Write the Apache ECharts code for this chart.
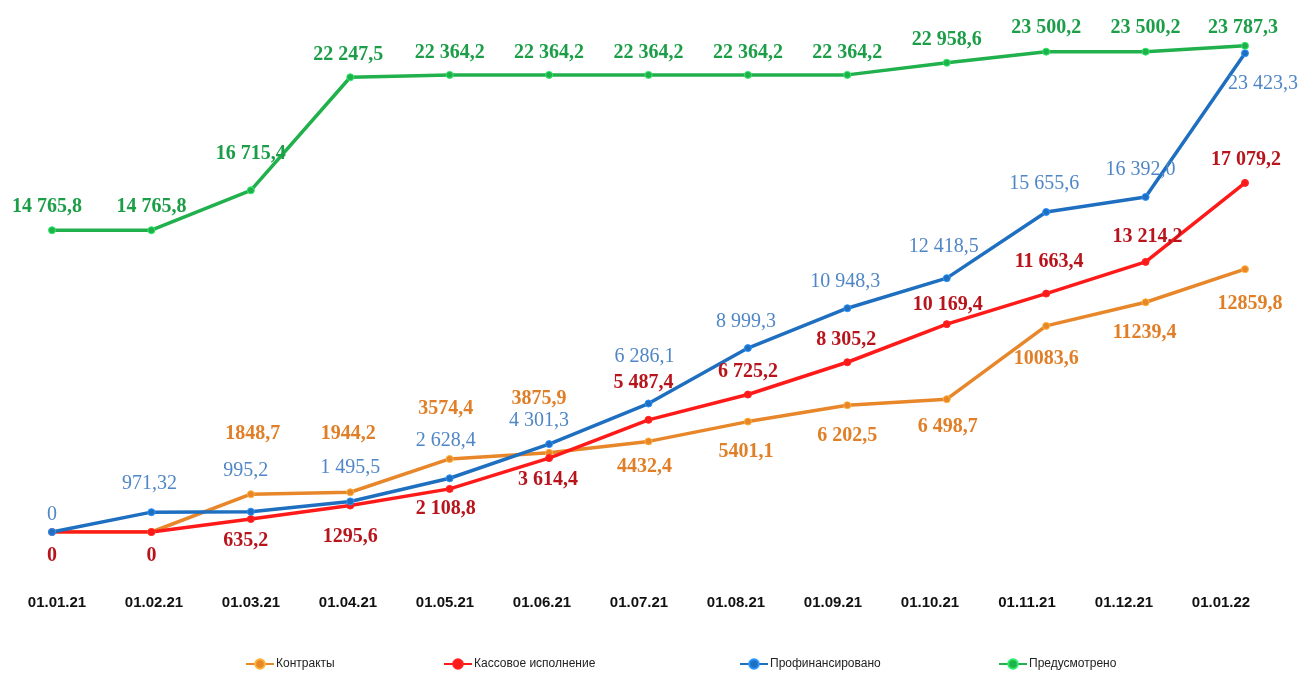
<!DOCTYPE html>
<html>
<head>
<meta charset="utf-8">
<script src="https://cdn.jsdelivr.net/npm/echarts@6/dist/echarts.min.js"></script>
<style>
  html, body { margin: 0; padding: 0; background: #fff; }
  #chart { width: 1301px; height: 673px; }
</style>
</head>
<body>
<div id="chart"></div>
<script>
// data
const dates = ['01.01.21', '01.02.21', '01.03.21', '01.04.21', '01.05.21', '01.06.21', '01.07.21',
  '01.08.21', '01.09.21', '01.10.21', '01.11.21', '01.12.21', '01.01.22']

const contracts = [0, 0, 1848.7, 1944.2, 3574.4, 3875.9, 4432.4, 5401.1, 6202.5, 6498.7, 10083.6, 11239.4, 12859.8]
const cashExec = [0, 0, 635.2, 1295.6, 2108.8, 3614.4, 5487.4, 6725.2, 8305.2, 10169.4, 11663.4, 13214.2, 17079.2]
const financed = [0, 971.32, 995.2, 1495.5, 2628.4, 4301.3, 6286.1, 8999.3, 10948.3, 12418.5, 15655.6, 16392.0, 23423.3]
const planned = [14765.8, 14765.8, 16715.4, 22247.5, 22364.2, 22364.2, 22364.2, 22364.2, 22364.2, 22958.6, 23500.2, 23500.2, 23787.3]

// value labels as printed on the slide (formatting is inconsistent there)
const contractsText = ['', '', '1848,7', '1944,2', '3574,4', '3875,9', '4432,4', '5401,1', '6 202,5', '6 498,7', '10083,6', '11239,4', '12859,8']
const cashText = ['0', '0', '635,2', '1295,6', '2 108,8', '3 614,4', '5 487,4', '6 725,2', '8 305,2', '10 169,4', '11 663,4', '13 214,2', '17 079,2']
const financedText = ['0', '971,32', '995,2', '1 495,5', '2 628,4', '4 301,3', '6 286,1', '8 999,3', '10 948,3', '12 418,5', '15 655,6', '16 392,0', '23 423,3']
const plannedText = ['14 765,8', '14 765,8', '16 715,4', '22 247,5', '22 364,2', '22 364,2', '22 364,2', '22 364,2', '22 364,2', '22 958,6', '23 500,2', '23 500,2', '23 787,3']

// label placement relative to the point [dx, dy]
const contractsOff = [[0, 0], [0, 0], [2, -60], [-2, -58], [-4, -50], [-10, -54], [-4, 25], [-2, 30], [0, 31], [1, 28], [0, 33], [-1, 31], [5, 35]]
const cashOff = [[0, 24], [0, 24], [-5, 22], [0, 31], [-4, 20], [-1, 22], [-5, -37], [0, -23], [-1, -22], [1, -19], [3, -32], [2, -25], [1, -23]]
const financedOff = [[0, -17], [-2, -28], [-5, -41], [0, -34], [-4, -38], [-10, -23], [-4, -47], [-2, -26], [-2, -26], [-3, -31], [-2, -28], [-5, -27], [18, 31]]
const plannedOff = [[-5, -23], [0, -23], [0, -37], [-2, -22], [0, -22], [0, -22], [0, -22], [0, -22], [0, -22], [0, -23], [0, -24], [0, -24], [-2, -18]]

const chart = echarts.init(document.getElementById('chart'))

const serif = '"Liberation Serif", "Times New Roman", serif'
const sans = '"Liberation Sans", Arial, sans-serif'

function makeSeries(name, values, texts, offsets, lineColor, labelColor, bold) {
  return {
    name,
    type: 'line',
    symbol: 'circle',
    symbolSize: 7,
    lineStyle: { width: 3.5, color: lineColor },
    itemStyle: { color: lineColor, borderColor: echarts.color.lift(lineColor, -0.35), borderWidth: 1 },
    emphasis: { disabled: true },
    animation: false,
    data: values.map((v, i) => ({
      value: v,
      label: {
        show: texts[i] !== '',
        position: 'inside',
        offset: offsets[i],
        formatter: () => texts[i]
      }
    })),
    label: {
      color: labelColor,
      fontFamily: serif,
      fontSize: 20,
      fontWeight: bold ? 'bold' : 'normal'
    }
  }
}

const names = ['Контракты', 'Кассовое исполнение', 'Профинансировано', 'Предусмотрено']
const legendLeft = [240, 438, 734, 993]

chart.setOption({
  backgroundColor: '#fff',
  grid: [
    { left: 52, right: 56, top: 21, bottom: 141 },
    // the date row on the slide is spaced a little differently from the points
    { left: 57, right: 80, top: 21, bottom: 141 }
  ],
  legend: names.map((n, i) => ({
    data: [n],
    left: legendLeft[i],
    top: 653,
    itemWidth: 28,
    itemHeight: 12,
    textStyle: { fontFamily: sans, fontSize: 12, color: '#222', padding: [0, 0, 0, -3] }
  })),
  xAxis: [
    {
      type: 'category',
      data: dates,
      boundaryGap: false,
      gridIndex: 0,
      axisLine: { show: false },
      axisTick: { show: false },
      axisLabel: { show: false },
      splitLine: { show: false }
    },
    {
      type: 'category',
      data: dates,
      boundaryGap: false,
      gridIndex: 1,
      axisLine: { show: false },
      axisTick: { show: false },
      axisLabel: {
        margin: 63,
        color: '#111',
        fontFamily: sans,
        fontWeight: 'bold',
        fontSize: 15
      },
      splitLine: { show: false }
    }
  ],
  yAxis: [
    { type: 'value', min: 0, max: 25000, show: false, gridIndex: 0 },
    { type: 'value', min: 0, max: 25000, show: false, gridIndex: 1 }
  ],
  series: [
    makeSeries(names[0], contracts, contractsText, contractsOff, '#e8862a', '#e07f27', true),
    makeSeries(names[1], cashExec, cashText, cashOff, '#ff1a1a', '#b8141c', true),
    makeSeries(names[2], financed, financedText, financedOff, '#1f6fc1', '#4f86c6', false),
    makeSeries(names[3], planned, plannedText, plannedOff, '#20b04c', '#1b9e47', true)
  ]
})
</script>
</body>
</html>
